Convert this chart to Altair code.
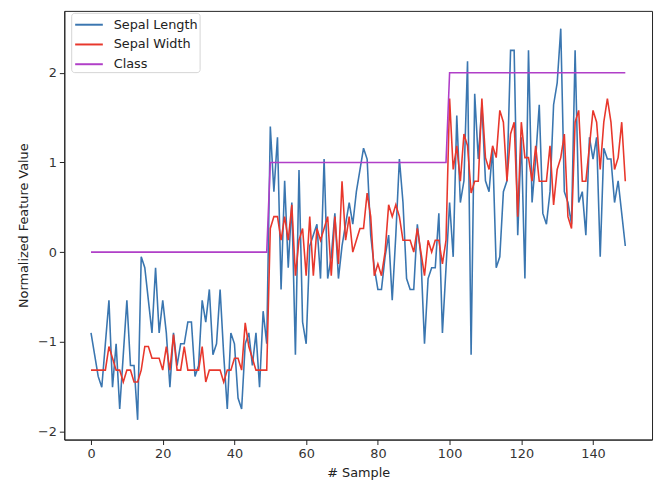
import altair as alt
import numpy as np
import pandas as pd

# Iris measurements (cm), samples 0..149
sepal_length = [
    5.1, 4.9, 4.7, 4.6, 5.0, 5.4, 4.6, 5.0, 4.4, 4.9, 5.4, 4.8, 4.8, 4.3, 5.8, 5.7, 5.4, 5.1, 5.7, 5.1,
    5.4, 5.1, 4.6, 5.1, 4.8, 5.0, 5.0, 5.2, 5.2, 4.7, 4.8, 5.4, 5.2, 5.5, 4.9, 5.0, 5.5, 4.9, 4.4, 5.1,
    5.0, 4.5, 4.4, 5.0, 5.1, 4.8, 5.1, 4.6, 5.3, 5.0,
    7.0, 6.4, 6.9, 5.5, 6.5, 5.7, 6.3, 4.9, 6.6, 5.2, 5.0, 5.9, 6.0, 6.1, 5.6, 6.7, 5.6, 5.8, 6.2, 5.6,
    5.9, 6.1, 6.3, 6.1, 6.4, 6.6, 6.8, 6.7, 6.0, 5.7, 5.5, 5.5, 5.8, 6.0, 5.4, 6.0, 6.7, 6.3, 5.6, 5.5,
    5.5, 6.1, 5.8, 5.0, 5.6, 5.7, 5.7, 6.2, 5.1, 5.7,
    6.3, 5.8, 7.1, 6.3, 6.5, 7.6, 4.9, 7.3, 6.7, 7.2, 6.5, 6.4, 6.8, 5.7, 5.8, 6.4, 6.5, 7.7, 7.7, 6.0,
    6.9, 5.6, 7.7, 6.3, 6.7, 7.2, 6.2, 6.1, 6.4, 7.2, 7.4, 7.9, 6.4, 6.3, 6.1, 7.7, 6.3, 6.4, 6.0, 6.9,
    6.7, 6.9, 5.8, 6.8, 6.7, 6.7, 6.3, 6.5, 6.2, 5.9,
]
# second plotted feature (labelled "Sepal Width" in the chart)
second_feature = [
    0.2, 0.2, 0.2, 0.2, 0.2, 0.4, 0.3, 0.2, 0.2, 0.1, 0.2, 0.2, 0.1, 0.1, 0.2, 0.4, 0.4, 0.3, 0.3, 0.3,
    0.2, 0.4, 0.2, 0.5, 0.2, 0.2, 0.4, 0.2, 0.2, 0.2, 0.2, 0.4, 0.1, 0.2, 0.2, 0.2, 0.2, 0.1, 0.2, 0.2,
    0.3, 0.3, 0.2, 0.6, 0.4, 0.3, 0.2, 0.2, 0.2, 0.2,
    1.4, 1.5, 1.5, 1.3, 1.5, 1.3, 1.6, 1.0, 1.3, 1.4, 1.0, 1.5, 1.0, 1.4, 1.3, 1.4, 1.5, 1.0, 1.5, 1.1,
    1.8, 1.3, 1.5, 1.2, 1.3, 1.4, 1.4, 1.7, 1.5, 1.0, 1.1, 1.0, 1.2, 1.6, 1.5, 1.6, 1.5, 1.3, 1.3, 1.3,
    1.2, 1.4, 1.2, 1.0, 1.3, 1.2, 1.3, 1.3, 1.1, 1.3,
    2.5, 1.9, 2.1, 1.8, 2.2, 2.1, 1.7, 1.8, 1.8, 2.5, 2.0, 1.9, 2.1, 2.0, 2.4, 2.3, 1.8, 2.2, 2.3, 1.5,
    2.3, 2.0, 2.0, 1.8, 2.1, 1.8, 1.8, 1.8, 2.1, 1.6, 1.9, 2.0, 2.2, 1.5, 1.4, 2.3, 2.4, 1.8, 1.8, 2.1,
    2.4, 2.3, 1.9, 2.3, 2.5, 2.3, 1.9, 2.0, 2.3, 1.8,
]
class_label = [0] * 50 + [1] * 50 + [2] * 50

series_names = ["Sepal Length", "Sepal Width", "Class"]
series_colors = ["#3a76b0", "#e8372c", "#b03fc8"]
x_ticks = [0, 20, 40, 60, 80, 100, 120, 140]
y_ticks = [-2, -1, 0, 1, 2]


def zscore(v):
    a = np.asarray(v, dtype=float)
    return (a - a.mean()) / a.std()


n = len(sepal_length)
frames = []
for name, vals in zip(series_names, [zscore(sepal_length), zscore(second_feature), class_label]):
    frames.append(pd.DataFrame({"sample": np.arange(n), "value": vals, "series": name}))
df = pd.concat(frames, ignore_index=True)

FONT = "DejaVu Sans"

chart = (
    alt.Chart(df)
    .mark_line(strokeWidth=1.6, clip=True)
    .encode(
        x=alt.X(
            "sample:Q",
            title="# Sample",
            scale=alt.Scale(domain=[-7.45, 156.45], nice=False, zero=False),
            axis=alt.Axis(values=x_ticks, format="d"),
        ),
        y=alt.Y(
            "value:Q",
            title="Normalized Feature Value",
            scale=alt.Scale(domain=[-2.09, 2.69], nice=False, zero=False),
            axis=alt.Axis(values=y_ticks, format="d"),
        ),
        color=alt.Color(
            "series:N",
            scale=alt.Scale(domain=series_names, range=series_colors),
            legend=alt.Legend(
                title=None,
                orient="none",
                legendX=7,
                legendY=2,
                symbolType="M-1.4,0H1.4",
                symbolSize=400,
                symbolStrokeWidth=2,
                symbolOffset=6,
                labelFontSize=13,
                labelColor="#222",
                labelFont=FONT,
                strokeColor="#d4d4d4",
                fillColor="white",
                cornerRadius=3,
                padding=1,
                rowPadding=2,
                labelOffset=14,
            ),
        ),
        detail="series:N",
    )
    .properties(
        width=595,
        height=434,
        autosize=alt.AutoSizeParams(type="none"),
        padding={"left": 57, "top": 0, "right": 2, "bottom": 38},
    )
    .configure_view(stroke="#222", strokeWidth=1)
    .configure_axis(
        grid=False,
        domainColor="#222",
        tickColor="#222",
        tickSize=5,
        labelFont=FONT,
        labelFontSize=13,
        labelColor="#333",
        labelPadding=3,
        titleFont=FONT,
        titleFontSize=13,
        titleFontWeight="normal",
        titleColor="#222",
    )
    .configure_axisX(titlePadding=6)
    .configure_axisY(titlePadding=7)
)

chart.save("out.html", embed_options={"renderer": "svg", "actions": False})
